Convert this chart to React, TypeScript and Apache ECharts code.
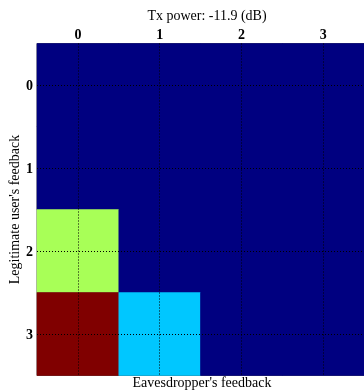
import React, { useEffect, useRef } from "react";
import * as echarts from "echarts";

const titleText = "Tx power: -11.9 (dB)";
const xCategories = ["0", "1", "2", "3"];
const yCategories = ["0", "1", "2", "3"];
// rows: legitimate user's feedback (0..3), columns: eavesdropper's feedback (0..3)
const row0 = [0, 0, 0, 0];
const row1 = [0, 0, 0, 0];
const row2 = [0.54, 0, 0, 0];
const row3 = [1.0, 0.32, 0, 0];
const rows = [row0, row1, row2, row3];
const xName = "Eavesdropper's feedback";
const yName = "Legitimate user's feedback";

function jetColor(v: number): string {
  const c = (x: number) => Math.max(0, Math.min(1, x));
  const r = c(1.5 - Math.abs(4 * v - 3));
  const g = c(1.5 - Math.abs(4 * v - 2));
  const b = c(1.5 - Math.abs(4 * v - 1));
  const h = (x: number) => Math.round(x * 255).toString(16).padStart(2, "0");
  return "#" + h(r) + h(g) + h(b);
}

const jetStops: string[] = [];
for (let i = 0; i < 64; i++) jetStops.push(jetColor(i / 63));

export default function App() {
  const ref = useRef<HTMLDivElement>(null);
  useEffect(() => {
    if (!ref.current) return;
    const chart = echarts.init(ref.current, null, { renderer: "svg" });
    const data: number[][] = [];
    rows.forEach((row, yi) => row.forEach((v, xi) => data.push([xi, yi, v])));
    const font = "Liberation Serif";
    const gridLeft = 37;
    const gridTop = 43.5;
    const gridW = 330;
    const gridH = 332;
    chart.setOption({
      animation: false,
      title: {
        text: titleText,
        left: gridLeft + gridW / 2,
        textAlign: "center",
        top: 3,
        textStyle: { fontFamily: font, fontSize: 14, fontWeight: "normal", color: "#000" },
      },
      grid: {
        left: gridLeft,
        top: gridTop,
        width: gridW,
        height: gridH,
        show: true,
        backgroundColor: jetStops[0],
        borderColor: "#555",
        borderWidth: 1,
      },
      visualMap: {
        show: false,
        min: 0,
        max: 1,
        dimension: 2,
        inRange: { color: jetStops },
      },
      xAxis: {
        type: "category",
        data: xCategories,
        position: "top",
        axisLine: { show: false },
        axisTick: { show: false },
        splitLine: { show: false },
        axisLabel: { fontFamily: font, fontSize: 14, color: "#000", fontWeight: "bold", margin: 2 },
      },
      yAxis: {
        type: "category",
        data: yCategories,
        inverse: true,
        axisLine: { show: false },
        axisTick: { show: false },
        splitLine: { show: false },
        axisLabel: { fontFamily: font, fontSize: 14, color: "#000", fontWeight: "bold", margin: 4 },
      },
      graphic: [
        {
          type: "text",
          x: gridLeft + gridW / 2,
          y: 382,
          style: {
            text: xName,
            textAlign: "center",
            textVerticalAlign: "middle",
            font: `14px "${font}"`,
            fill: "#000",
          },
        },
        {
          type: "text",
          x: 14,
          y: gridTop + gridH / 2,
          rotation: Math.PI / 2,
          style: {
            text: yName,
            textAlign: "center",
            textVerticalAlign: "middle",
            font: `14px "${font}"`,
            fill: "#000",
          },
        },
      ],
      series: [
        {
          type: "heatmap",
          data,
          itemStyle: { borderWidth: 0 },
          emphasis: { disabled: true },
          markLine: {
            silent: true,
            symbol: "none",
            label: { show: false },
            lineStyle: { type: [1, 2], color: "#000", width: 1 },
            data: [
              ...xCategories.map((c) => ({ xAxis: c })),
              ...yCategories.map((c) => ({ yAxis: c })),
            ],
          },
        },
      ],
    });
    return () => chart.dispose();
  }, []);
  return <div ref={ref} style={{ position: "fixed", left: 0, top: 0, width: 364, height: 390 }} />;
}
